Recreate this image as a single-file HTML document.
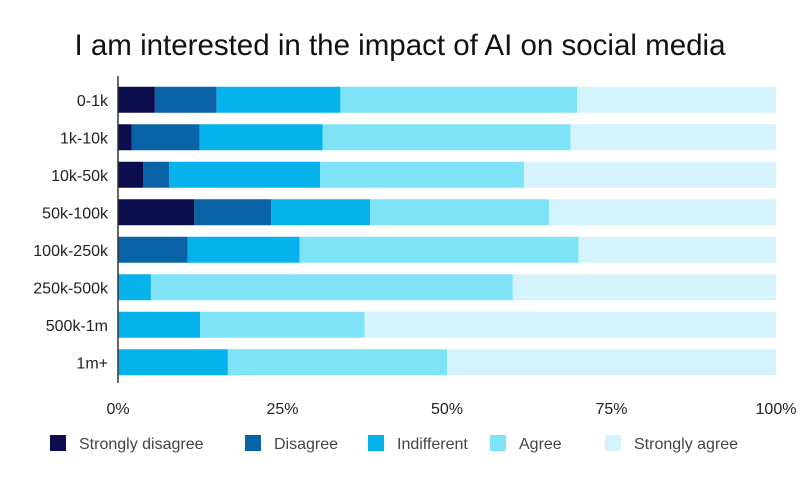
<!DOCTYPE html>
<html><head><meta charset="utf-8"><style>
body{margin:0;background:#fff;font-family:"Liberation Sans",sans-serif;}
svg text{font-family:"Liberation Sans",sans-serif;}
</style></head><body>
<svg id="chart" width="800" height="478">
<text x="400" y="55" text-anchor="middle" font-size="29.5" fill="#111">I am interested in the impact of AI on social media</text>
</svg>
<script>
const categories=["0-1k","1k-10k","10k-50k","50k-100k","100k-250k","250k-500k","500k-1m","1m+"];
const seriesNames=["Strongly disagree","Disagree","Indifferent","Agree","Strongly agree"];
const stronglyDisagree=[5.6,2.1,3.8,11.6,0,0,0,0];
const disagree=[9.4,10.3,4.0,11.7,10.6,0,0,0];
const indifferent=[18.8,18.7,22.9,15.0,17.0,5.0,12.5,16.7];
const agree=[36.0,37.7,31.0,27.2,42.4,55.0,25.0,33.3];
const stronglyAgree=[30.2,31.2,38.3,34.5,30.0,40.0,62.5,50.0];
const tickLabels=["0%","25%","50%","75%","100%"];
const tickValues=[0,25,50,75,100];
const colors=["#0b0d4f","#0a63a6","#06b2ec","#7fe3f7","#d4f3fc"];
const series=[stronglyDisagree,disagree,indifferent,agree,stronglyAgree];
const NS="http://www.w3.org/2000/svg";
const svg=document.getElementById("chart");
const x0=118,x1=776,yTop=80,rowH=37.5,barH=26;
const xs=v=>x0+(x1-x0)*v/100;
const yc=i=>yTop+rowH*i+rowH/2+1;
function mk(t,a){const e=document.createElementNS(NS,t);for(const k in a)e.setAttribute(k,a[k]);svg.appendChild(e);return e;}
categories.forEach((c,i)=>{
  let acc=0;
  series.forEach((s,j)=>{
    const v=s[i];
    if(v>0){
      const r=mk("rect",{x:xs(acc),y:yc(i)-barH/2,width:xs(acc+v)-xs(acc),height:barH,fill:colors[j]});
      
      
    }
    acc+=v;
  });
  const t=mk("text",{x:108,y:yc(i)+6,"text-anchor":"end","font-size":16,fill:"#222"});
  t.textContent=c;
  
  
});
const ax=mk("line",{x1:x0,y1:76,x2:x0,y2:383,stroke:"#333","stroke-width":1.5});


tickValues.forEach((v,k)=>{
  const t=mk("text",{x:xs(v),y:414,"text-anchor":"middle","font-size":16,fill:"#222"});
  t.textContent=tickLabels[k];
  
  
});
const legX=[50,245,368,490,605];
seriesNames.forEach((n,j)=>{
  const r=mk("rect",{x:legX[j],y:435,width:16,height:16,fill:colors[j]});
  
  
  const t=mk("text",{x:legX[j]+29,y:449,"font-size":16,fill:"#444"});
  t.textContent=n;
  
  
});
</script>
</body></html>
